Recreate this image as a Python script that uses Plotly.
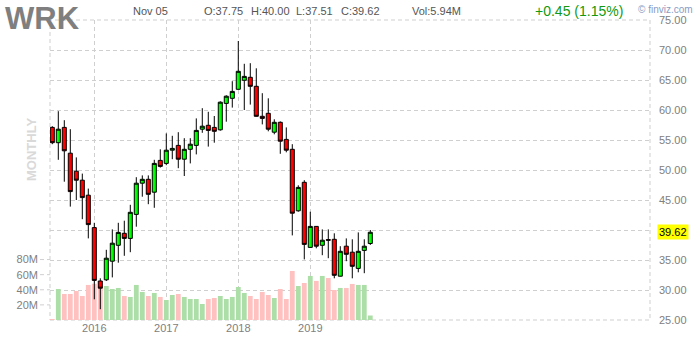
import plotly.graph_objects as go

# ---------------- data ----------------
months = [f"{y}-{m:02d}" for y in range(2015, 2020) for m in range(1, 13)]
months = months[months.index("2015-06"):months.index("2019-11") + 1]

opens = [57.1, 54.55, 57.1, 52.8, 49.8, 48.3, 45.8, 40.4, 31.5, 31.7, 34.8, 37.45,
         39.45, 38.6, 42.6, 47.8, 48.45, 46.3, 51.6, 51.1, 53.3, 54.1, 51.8, 53.45,
         54.1, 56.8, 57.45, 57.1, 56.7, 61.1, 61.95, 63.45, 64.95, 65.45, 63.95, 58.95,
         59.45, 56.3, 57.95, 55.1, 53.45, 43.2, 47.95, 37.1, 40.6, 37.45, 38.4, 38.45,
         32.3, 37.3, 36.3, 33.6, 36.6, 37.75]
highs = [57.3, 59.8, 58.3, 56.8, 52.1, 49.4, 46.9, 41.2, 31.95, 36.7, 40.1, 41.2,
         41.55, 44.2, 48.8, 49.1, 49.1, 51.7, 53.45, 56.1, 55.7, 56.3, 55.3, 55.3,
         58.6, 60.3, 59.7, 59.0, 61.45, 62.45, 64.8, 71.5, 67.7, 67.8, 66.95, 62.8,
         61.95, 58.45, 58.1, 57.1, 54.3, 47.45, 48.3, 43.05, 40.65, 40.1, 40.1, 39.45,
         37.3, 38.6, 38.45, 39.6, 38.45, 40.00]
lows = [54.3, 51.7, 48.05, 43.9, 45.0, 41.8, 38.6, 28.45, 26.8, 31.5, 32.1, 34.55,
        35.7, 36.3, 40.55, 45.55, 44.3, 43.7, 50.4, 50.8, 51.8, 50.3, 49.0, 51.1,
        52.6, 56.2, 53.9, 54.55, 56.55, 58.05, 60.4, 63.4, 60.0, 60.9, 58.9, 57.6,
        56.45, 55.95, 52.7, 52.95, 39.1, 43.05, 35.1, 37.05, 36.95, 35.8, 35.3, 31.95,
        32.25, 34.8, 31.95, 32.95, 32.8, 37.51]
closes = [54.55, 56.8, 53.2, 46.4, 48.3, 45.4, 40.9, 31.6, 30.3, 35.3, 37.8, 39.6,
          38.6, 42.95, 47.8, 48.45, 45.95, 51.1, 50.6, 53.3, 53.6, 51.8, 53.45, 54.3,
          56.6, 57.3, 56.6, 56.45, 61.3, 62.3, 63.1, 66.45, 65.6, 63.95, 58.95, 58.6,
          56.8, 57.95, 54.8, 53.3, 42.8, 47.1, 37.6, 40.6, 37.3, 38.3, 38.3, 32.45,
          36.45, 35.95, 33.95, 36.45, 37.3, 39.62]
volumes_m = [1.3, 41.0, 34.4, 34.4, 38.4, 31.8, 46.4, 48.0, 45.0, 45.0, 41.0, 42.4,
             31.8, 30.5, 46.4, 37.1, 31.8, 35.8, 30.5, 26.5, 33.1, 34.4, 30.5, 27.8,
             27.8, 21.2, 27.8, 29.1, 31.8, 27.8, 30.5, 43.7, 35.8, 31.8, 27.8, 37.1,
             33.1, 29.1, 41.0, 27.8, 64.9, 45.0, 49.0, 58.3, 51.7, 58.3, 55.6, 39.7,
             42.4, 42.4, 47.7, 46.4, 46.4, 5.94]

year_ticks = ["2016-01", "2017-01", "2018-01", "2019-01"]
year_labels = ["2016", "2017", "2018", "2019"]
price_ticks = [25, 30, 35, 40, 45, 50, 55, 60, 65, 70, 75]
vol_ticks = [20, 40, 60, 80]
vol_labels = ["20M", "40M", "60M", "80M"]

ticker = "WRK"
date_label = "Nov 05"
ohlc_labels = ["O:37.75", "H:40.00", "L:37.51", "C:39.62"]
vol_label = "Vol:5.94M"
change_label = "+0.45 (1.15%)"
last_price = closes[-1]

# ---------------- figure ----------------
FONT = "Liberation Sans, Arial, sans-serif"
GRID = "#cfcfcf"
W, H = 700, 340
ML, MR, MT, MB = 50, 50, 20, 20
PW, PH = W - ML - MR, H - MT - MB


def px(x):
    return (x - ML) / PW


def py(y):
    return (H - MB - y) / PH


vol_colors = ["#acdfa8" if c >= o else "#ffc0c0" for o, c in zip(opens, closes)]

fig = go.Figure()
fig.add_trace(go.Bar(
    x=months, y=[v * 1e6 for v in volumes_m], marker=dict(color=vol_colors, line=dict(width=0)),
    width=0.8, yaxis="y", hoverinfo="skip", showlegend=False))
fig.add_trace(go.Candlestick(
    x=months, open=opens, high=highs, low=lows, close=closes, yaxis="y2",
    increasing=dict(fillcolor="#00ff00", line=dict(color="#000000", width=1)),
    decreasing=dict(fillcolor="#ff0000", line=dict(color="#000000", width=1)),
    whiskerwidth=0, showlegend=False))

shapes = [dict(type="rect", xref="paper", yref="paper", x0=0, x1=1, y0=0, y1=1,
               line=dict(color=GRID, width=1, dash="4px,3px"), layer="below")]
for v in vol_ticks:
    shapes.append(dict(type="line", xref="paper", yref="y", x0=px(40), x1=0,
                       y0=v * 1e6, y1=v * 1e6,
                       line=dict(color=GRID, width=1, dash="4px,3px"), layer="below"))

annotations = [
    dict(text=f"<b>{ticker}</b>", x=px(3), y=py(18), xanchor="left", yanchor="middle",
         font=dict(family=FONT, size=31, color="#7f7f7f")),
    dict(text=date_label, x=px(131), y=py(11), xanchor="left", yanchor="middle",
         font=dict(family=FONT, size=11, color="#555555")),
    dict(text=vol_label, x=px(410), y=py(11), xanchor="left", yanchor="middle",
         font=dict(family=FONT, size=11, color="#555555")),
    dict(text=change_label, x=px(533), y=py(11), xanchor="left", yanchor="middle",
         font=dict(family=FONT, size=14, color="#119911")),
    dict(text="© finviz.com", x=px(636), y=py(9), xanchor="left", yanchor="middle",
         font=dict(family=FONT, size=10, color="#8a9cc4")),
    dict(text="<b>MONTHLY</b>", x=px(31), y=py(150), xanchor="center", yanchor="middle",
         textangle=-90, font=dict(family=FONT, size=13, color="#d9d9d9")),
    dict(text=f"{last_price:.2f}", xref="paper", yref="y2", x=1, y=last_price,
         xanchor="left", yanchor="middle", xshift=7, bgcolor="#ffff00", borderpad=1,
         font=dict(family=FONT, size=11, color="#000000")),
]
for lbl, xl in zip(ohlc_labels, [202, 249, 294, 339]):
    annotations.append(dict(text=lbl, x=px(xl), y=py(11), xanchor="left", yanchor="middle",
                            font=dict(family=FONT, size=11, color="#555555")))
for a in annotations:
    a.setdefault("xref", "paper")
    a.setdefault("yref", "paper")
    a.setdefault("showarrow", False)

fig.update_layout(
    width=W, height=H, margin=dict(l=ML, r=MR, t=MT, b=MB, autoexpand=False),
    paper_bgcolor="white", plot_bgcolor="white",
    font=dict(family=FONT, size=11, color="#808080"),
    boxgap=0.33, boxgroupgap=0, bargap=0.2,
    showlegend=False,
    xaxis=dict(type="category", categoryorder="array", categoryarray=months,
               range=[-0.383, 99.62], tickvals=year_ticks, ticktext=year_labels,
               showgrid=True, gridcolor=GRID, griddash="4px,3px", gridwidth=1,
               showline=False, zeroline=False, ticks="", automargin=False,
               rangeslider=dict(visible=False),
               tickfont=dict(family=FONT, size=11, color="#808080")),
    yaxis=dict(range=[0, 397e6], side="left", tickvals=[v * 1e6 for v in vol_ticks],
               ticktext=vol_labels, showgrid=False, zeroline=False, showline=False,
               ticks="", ticklabelstandoff=11, automargin=False,
               tickfont=dict(family=FONT, size=11, color="#808080")),
    yaxis2=dict(range=[25, 75], side="right", overlaying="y", tickvals=price_ticks,
                ticktext=["" if t == 40 else f"{t:.2f}" for t in price_ticks],
                showgrid=True, gridcolor=GRID, griddash="4px,3px", gridwidth=1,
                zeroline=False, showline=False, ticks="", ticklabelstandoff=8,
                automargin=False,
                tickfont=dict(family=FONT, size=11, color="#808080")),
    shapes=shapes, annotations=annotations,
)

fig.write_html("out.html")
